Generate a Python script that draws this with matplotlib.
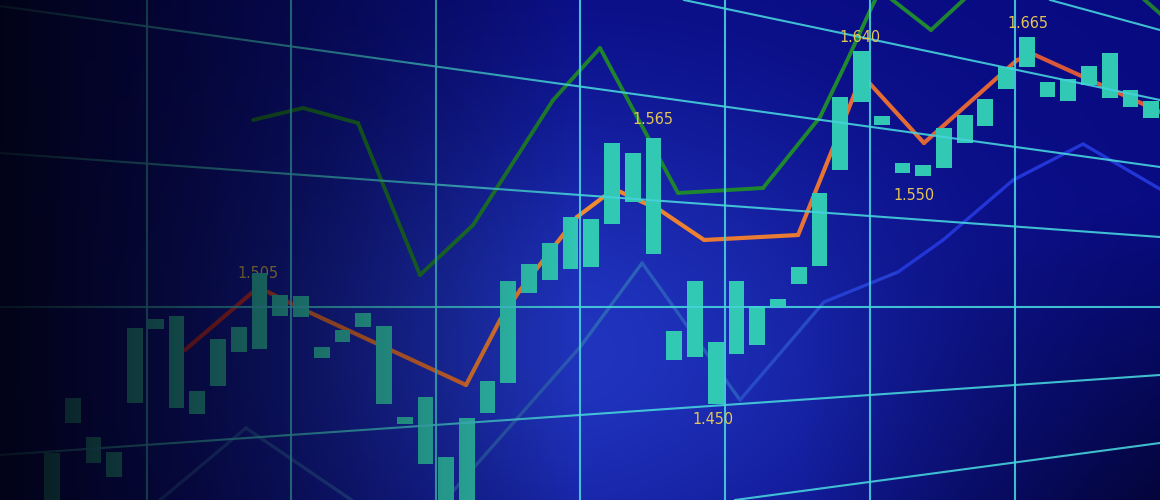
import numpy as np
import matplotlib.pyplot as plt
from matplotlib.collections import LineCollection
from matplotlib.colors import to_rgb

# candle bodies, one per time step (screen level 0-100)
candle_top = [9.4, 20.4, 12.6, 9.6, 34.4, 36.2, 36.8, 21.8, 32.2, 34.6,
              45.4, 41.0, 40.8, 30.6, 34.0, 37.4, 34.8, 16.6, 20.6, 8.6,
              16.4, 23.8, 43.8, 47.2, 51.4, 56.6, 56.2, 71.4, 69.4, 72.4,
              33.8, 43.8, 31.6, 43.8, 38.8, 40.2, 46.6, 61.4, 80.6, 89.8,
              76.8, 67.4, 67.0, 74.4, 77.0, 80.2, 86.6, 92.6, 83.6, 84.2,
              86.8, 89.4, 82.0, 79.8]
candle_bot = [-2, 15.4, 7.4, 4.6, 19.4, 34.2, 18.4, 17.2, 22.8, 29.6,
              30.2, 36.8, 36.6, 28.4, 31.6, 34.6, 19.2, 15.2, 7.2, -2,
              -2, 17.4, 23.4, 41.4, 44.0, 46.2, 46.6, 55.2, 59.6, 49.2,
              28.0, 28.6, 19.2, 29.2, 31.0, 38.8, 43.2, 46.8, 66.0, 79.6,
              75.0, 65.4, 64.8, 66.4, 71.4, 74.8, 82.2, 86.6, 80.6, 79.8,
              83.0, 80.4, 78.6, 76.4]

# moving averages
orange_x = [6.41, 9.79, 10.41, 11.96, 19.96, 21.6, 22.57, 25.31, 27.1, 29.3,
            31.44, 35.97, 38.0, 39.05, 42.04, 46.53, 47.4, 53.5]
orange_y = [30, 42, 41.6, 38.4, 23, 36, 42, 56.6, 62.2, 58,
            52, 53, 74, 85, 71.4, 88, 89, 77.5]

green_x = [9.69, 12.10, 14.75, 17.74, 20.3, 24.16, 26.42, 30.18, 34.28, 37.03,
           38.28, 39.9, 42.38, 44.98, 50.5, 53.5]
green_y = [76, 78.4, 75.4, 45, 55, 80, 90.4, 61.4, 62.4, 76.6,
           87.4, 102, 94, 104, 108, 97]

blue_x = [4.24, 5.21, 9.35, 17.26, 25.46, 28.45, 33.17, 37.22, 40.79, 42.96,
          46.34, 49.71, 53.5]
blue_y = [-5, 0, 14.4, -8, 30.6, 47.4, 20, 39.6, 45.6, 52,
          64, 71.2, 62]

# price tags
labels = ['1.505', '1.565', '1.450', '1.640', '1.550', '1.665']
label_x = [9.93, 28.98, 31.87, 38.96, 41.56, 47.06]
label_y = [45.2, 76, 16, 92.4, 61, 95.2]

# screen grid (seen in perspective)
grid_vx = [4.58, 11.52, 18.51, 25.46, 32.45, 39.44, 46.43]
grid_x0 = [48.12, 30.47, -2.51, -2.51, -2.51, -2.51, 32.93]
grid_y0 = [100, 100, 98.8, 69.4, 38.6, 9, 0]
grid_y1 = [94, 80, 66.6, 52.6, 38.6, 25, 11.4]

x0, x1 = -2.51, 53.42
tag_font = dict(color='#e3c456', fontsize=11.5, family=['DejaVu Sans'],
                fontstretch='condensed', ha='center', va='center')

fig = plt.figure(figsize=(11.6, 5.0), dpi=100)
ax = fig.add_axes([0, 0, 1, 1])
ax.axis('off')

# background: deep blue with a glow in the middle
W, H = 1160, 500
X, Y = np.meshgrid(np.arange(W) + 0.5, np.arange(H) + 0.5)
glow = np.exp(-(((X - 560) / 250) ** 2 + ((Y - 350) / 180) ** 2) / 2)
img = np.array([8, 10, 128]) / 255 + glow[..., None] * np.array([24, 42, 62]) / 255
dark = 1 - 0.55 * np.clip((X - 800) / 360, 0, 1) * np.clip((Y - 200) / 300, 0, 1)
img = np.clip(img * dark[..., None], 0, 1)
ax.imshow(img, extent=[x0, x1, 0, 100], aspect='auto', origin='upper', zorder=0)


def grad_line(xs, ys, stops, lw, z):
    xs = np.asarray(xs, float)
    ys = np.asarray(ys, float)
    pts = np.column_stack([xs, ys]).reshape(-1, 1, 2)
    segs = np.concatenate([pts[:-1], pts[1:]], axis=1)
    mid = (xs[:-1] + xs[1:]) / 2
    sx = [s[0] for s in stops]
    rgb = np.array([to_rgb(s[1]) for s in stops])
    cols = np.column_stack([np.interp(mid, sx, rgb[:, k]) for k in range(3)])
    lc = LineCollection(segs, colors=cols, linewidths=lw, zorder=z,
                        capstyle='round', joinstyle='miter')
    ax.add_collection(lc)


grad_line(blue_x, blue_y, [(10, '#2a4cb0'), (28, '#2c62b8'), (42, '#2236d8')], 2.4, 2)
grad_line(green_x, green_y, [(10, '#1d7a2a'), (40, '#1f8a30'), (50, '#1f7a34')], 2.8, 2)
grad_line(orange_x, orange_y, [(8, '#d8302c'), (16, '#e87030'), (26, '#f08c30'),
                               (45, '#e06234'), (52, '#d8543a')], 3.0, 2.2)

# faint tag sits behind its candle
ax.text(label_x[0], label_y[0], labels[0], zorder=2.5, **tag_font)

ax.bar(np.arange(len(candle_top)), np.array(candle_top) - np.array(candle_bot),
       bottom=candle_bot, width=0.76, color='#31c8b4', zorder=3)

for i in range(1, len(labels)):
    ax.text(label_x[i], label_y[i], labels[i], zorder=6, **tag_font)

for gx in grid_vx:
    ax.axvline(gx, color='#46d2dc', lw=1.5, alpha=0.9, zorder=5)
for a, b, c in zip(grid_x0, grid_y0, grid_y1):
    ax.plot([a, x1], [b, c], color='#46d2dc', lw=1.5, alpha=0.9, zorder=5)

# dark vignette over the left side
alpha = 0.92 * np.clip(1 - X / 580, 0, 1) ** 0.9
shade = np.zeros((H, W, 4))
shade[..., :3] = np.array([2, 2, 14]) / 255
shade[..., 3] = alpha
ax.imshow(shade, extent=[x0, x1, 0, 100], aspect='auto', origin='upper', zorder=10)

ax.set_xlim(x0, x1)
ax.set_ylim(0, 100)

fig.savefig('out.png', dpi=100)
